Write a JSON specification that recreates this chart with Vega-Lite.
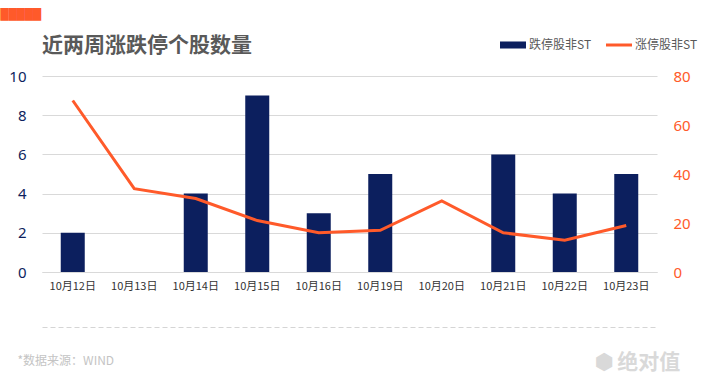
{
  "$schema": "https://vega.github.io/schema/vega-lite/v6.json",
  "width": 615,
  "height": 196,
  "autosize": {"type": "none"},
  "padding": {"left": 42, "top": 76, "right": 50, "bottom": 108},
  "background": "white",
  "title": {
    "text": "近两周涨跌停个股数量",
    "anchor": "start",
    "frame": "group",
    "baseline": "bottom",
    "offset": 20,
    "dy": 88,
    "font": "Noto Sans CJK SC",
    "fontSize": 21,
    "fontWeight": "bold",
    "color": "#595959"
  },
  "data": {
    "values": [
      {"date": "10月12日", "down": 2, "up": 70},
      {"date": "10月13日", "down": 0, "up": 34},
      {"date": "10月14日", "down": 4, "up": 30},
      {"date": "10月15日", "down": 9, "up": 21},
      {"date": "10月16日", "down": 3, "up": 16},
      {"date": "10月19日", "down": 5, "up": 17},
      {"date": "10月20日", "down": 0, "up": 29},
      {"date": "10月21日", "down": 6, "up": 16},
      {"date": "10月22日", "down": 4, "up": 13},
      {"date": "10月23日", "down": 5, "up": 19}
    ]
  },
  "layer": [
    {
      "mark": {"type": "bar", "size": 24},
      "encoding": {
        "x": {
          "field": "date",
          "type": "ordinal",
          "sort": null,
          "scale": {"paddingInner": 0, "paddingOuter": 0},
          "axis": {
            "orient": "bottom",
            "labelAngle": 0,
            "labelFontSize": 11,
            "labelColor": "#333333",
            "labelFont": "Noto Sans CJK SC",
            "labelPadding": 8,
            "ticks": false,
            "grid": false,
            "domain": true,
            "domainColor": "#d9d9d9",
            "title": "*数据来源：WIND",
            "titleX": -25,
            "titleY": 88,
            "titleAlign": "left",
            "titleBaseline": "middle",
            "titleAngle": 0,
            "titleFont": "Noto Sans CJK SC",
            "titleFontSize": 12,
            "titleFontWeight": "normal",
            "titleColor": "#c4c4c4"
          }
        },
        "y": {
          "field": "down",
          "type": "quantitative",
          "scale": {"domain": [0, 10], "nice": false},
          "axis": {
            "orient": "left",
            "values": [0, 2, 4, 6, 8, 10],
            "domain": false,
            "ticks": false,
            "grid": true,
            "gridColor": "#d9d9d9",
            "labelPadding": 16,
            "labelFontSize": 15,
            "labelFont": "Noto Sans",
            "labelColor": "#0e1f5e",
            "title": null
          }
        },
        "color": {
          "datum": "跌停股非ST",
          "type": "nominal",
          "scale": {"domain": ["跌停股非ST", "涨停股非ST"], "range": ["#0c1f5e", "#ff5a2a"]},
          "legend": {
            "orient": "none",
            "legendX": 458,
            "legendY": -44,
            "direction": "horizontal",
            "title": null,
            "padding": 0,
            "labelFontSize": 12,
            "labelFont": "Noto Sans CJK SC",
            "labelColor": "#595959",
            "symbolSize": 676,
            "labelOffset": 3,
            "columnPadding": 14,
            "encode": {
              "symbols": {
                "update": {
                  "shape": {"signal": "datum.value == '跌停股非ST' ? 'M-1,-0.27H1V0.27H-1Z' : 'M-1,-0.115H1V0.115H-1Z'"},
                  "fill": {"signal": "scale('color', datum.value)"},
                  "stroke": {"value": "transparent"},
                  "strokeWidth": {"value": 0},
                  "opacity": {"value": 1}
                }
              }
            }
          }
        }
      }
    },
    {
      "mark": {"type": "line", "strokeWidth": 3},
      "encoding": {
        "x": {
          "field": "date",
          "type": "ordinal",
          "sort": null,
          "axis": {
            "orient": "top",
            "offset": -251,
            "domain": true,
            "domainColor": "#d5d5d5",
            "domainDash": [5, 3],
            "labels": false,
            "ticks": false,
            "grid": false,
            "title": "█████",
            "titleFont": "DejaVu Sans",
            "titleFontSize": 10.6,
            "titleFontWeight": "normal",
            "titleColor": "#ff5a2a",
            "titleX": -42,
            "titleY": -313,
            "titleAlign": "left",
            "titleBaseline": "middle",
            "titleAngle": 0,
            "encode": {
              "title": {
                "update": {
                  "stroke": {"value": "#ff5a2a"},
                  "strokeWidth": {"value": 0.8}
                }
              }
            }
          }
        },
        "y": {
          "field": "up",
          "type": "quantitative",
          "scale": {"domain": [0, 80], "nice": false},
          "axis": {
            "orient": "right",
            "values": [0, 20, 40, 60, 80],
            "domain": false,
            "ticks": false,
            "grid": false,
            "labelPadding": 16,
            "labelFontSize": 15,
            "labelFont": "Noto Sans",
            "labelColor": "#ff5a2a",
            "title": "⬢ 绝对值",
            "titleX": -63,
            "titleY": 286,
            "titleAlign": "left",
            "titleBaseline": "middle",
            "titleAngle": 0,
            "titleFont": "Noto Sans CJK SC",
            "titleFontSize": 21,
            "titleFontWeight": "bold",
            "titleColor": "#d9d9d9"
          }
        },
        "color": {"datum": "涨停股非ST", "type": "nominal"}
      }
    }
  ],
  "resolve": {"scale": {"y": "independent"}, "axis": {"x": "independent"}},
  "config": {"view": {"stroke": null}, "font": "Noto Sans CJK SC"}
}
